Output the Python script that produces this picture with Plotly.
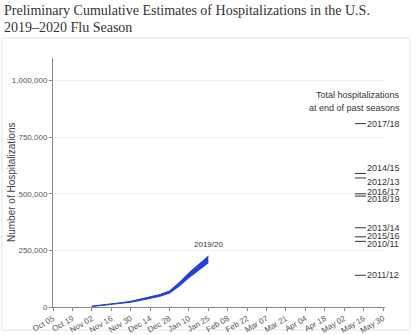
import plotly.graph_objects as go

# x positions are week indices from Oct 05 (week 0)
tick_weeks = [0, 2, 4, 6, 8, 10, 12, 14, 16, 18, 20, 22, 24, 26, 28, 30, 32, 34]
tick_labels = ["Oct 05", "Oct 19", "Nov 02", "Nov 16", "Nov 30", "Dec 14", "Dec 28",
               "Jan 10", "Jan 25", "Feb 08", "Feb 22", "Mar 07", "Mar 21", "Apr 04",
               "Apr 18", "May 02", "May 16", "May 30"]

weeks = [4, 5, 6, 7, 8, 9, 10, 11, 12, 13, 14, 15, 16]
low = [2000, 6000, 10500, 15000, 21000, 29000, 39000, 47000, 61000, 92000, 129000, 162000, 195000]
high = [4000, 8000, 13500, 19000, 25000, 35000, 45000, 55000, 71000, 108000, 151000, 188000, 225000]

seasons = ["2017/18", "2014/15", "2012/13", "2016/17", "2018/19",
           "2013/14", "2015/16", "2010/11", "2011/12"]
season_totals = [810000, 590000, 570000, 500000, 490000, 350000, 310000, 290000, 140000]
label_shift = [0, 5, -4, 2, -3, 0, 1, -3, 0]

title_lines = ["Preliminary Cumulative Estimates of Hospitalizations in the U.S.",
               "2019\u20132020 Flu Season"]
y_title = "Number of Hospitalizations"

blue = "#2241d6"
SANS = "Liberation Sans, Arial"
PLOT_TOP, PLOT_BOTTOM, PLOT_LEFT, PLOT_W = 58, 307, 53, 332
H = PLOT_BOTTOM - PLOT_TOP


def py(pix):
    return (PLOT_BOTTOM - pix) / H


def px(pix):
    return (pix - PLOT_LEFT) / PLOT_W


fig = go.Figure()
fig.add_trace(go.Scatter(x=weeks, y=low, mode="lines", line=dict(color=blue, width=1),
                         showlegend=False, hoverinfo="skip"))
fig.add_trace(go.Scatter(x=weeks, y=high, mode="lines", line=dict(color=blue, width=1),
                         fill="tonexty", fillcolor=blue, showlegend=False))

fig.add_annotation(x=weeks[-1], y=high[-1], text="2019/20", showarrow=False,
                   yanchor="bottom", yshift=5, font=dict(size=8, color="#333", family=SANS))

for name, val, sh in zip(seasons, season_totals, label_shift):
    fig.add_shape(type="line", x0=31.1, x1=32.25, y0=val, y1=val, xref="x", yref="y",
                  line=dict(color="#333", width=1))
    fig.add_annotation(x=32.25, y=val, text=name, showarrow=False, xanchor="left",
                       yanchor="middle", yshift=sh, xshift=-1,
                       font=dict(size=9, color="#333", family=SANS))

fig.add_annotation(x=px(402), y=py(95), xref="paper", yref="paper",
                   text="Total hospitalizations", showarrow=False, xanchor="right",
                   yanchor="middle", font=dict(size=9, color="#333", family=SANS))
fig.add_annotation(x=px(402), y=py(108), xref="paper", yref="paper",
                   text="at end of past seasons", showarrow=False, xanchor="right",
                   yanchor="middle", font=dict(size=9, color="#333", family=SANS))

# y-axis title
fig.add_annotation(x=px(11), y=py(182), xref="paper", yref="paper", text=y_title,
                   showarrow=False, textangle=-90, xanchor="center", yanchor="middle",
                   font=dict(size=10, color="#444", family=SANS))

# title lines
for line, yc in zip(title_lines, [10, 27]):
    fig.add_annotation(x=px(2), y=py(yc), xref="paper", yref="paper", text=line,
                       showarrow=False, xanchor="left", yanchor="middle",
                       font=dict(family="Liberation Serif, serif", size=14, color="#333"))

# frame
fig.add_shape(type="rect", xref="paper", yref="paper",
              x0=px(2), x1=px(410), y0=py(330), y1=py(38),
              line=dict(color="#e2e2e2", width=1), layer="below")

fig.update_layout(
    width=415, height=335,
    margin=dict(l=53, r=30, t=58, b=28),
    paper_bgcolor="white", plot_bgcolor="white",
    xaxis=dict(range=[0, 34.2], tickvals=tick_weeks, ticktext=tick_labels, tickangle=-30,
               automargin=False,
               showline=True, linecolor="#888", linewidth=1, ticks="outside", ticklen=3,
               tickcolor="#888", showgrid=False, zeroline=False,
               tickfont=dict(size=8, color="#555", family=SANS)),
    yaxis=dict(range=[0, 1100000], tickvals=[0, 250000, 500000, 750000, 1000000],
               automargin=False,
               tickformat=",", showline=True, linecolor="#888", linewidth=1,
               ticks="outside", ticklen=3, tickcolor="#888",
               showgrid=True, gridcolor="#f0f0f0", zeroline=False,
               tickfont=dict(size=8, color="#555", family=SANS)),
)

fig.write_html("out.html")
